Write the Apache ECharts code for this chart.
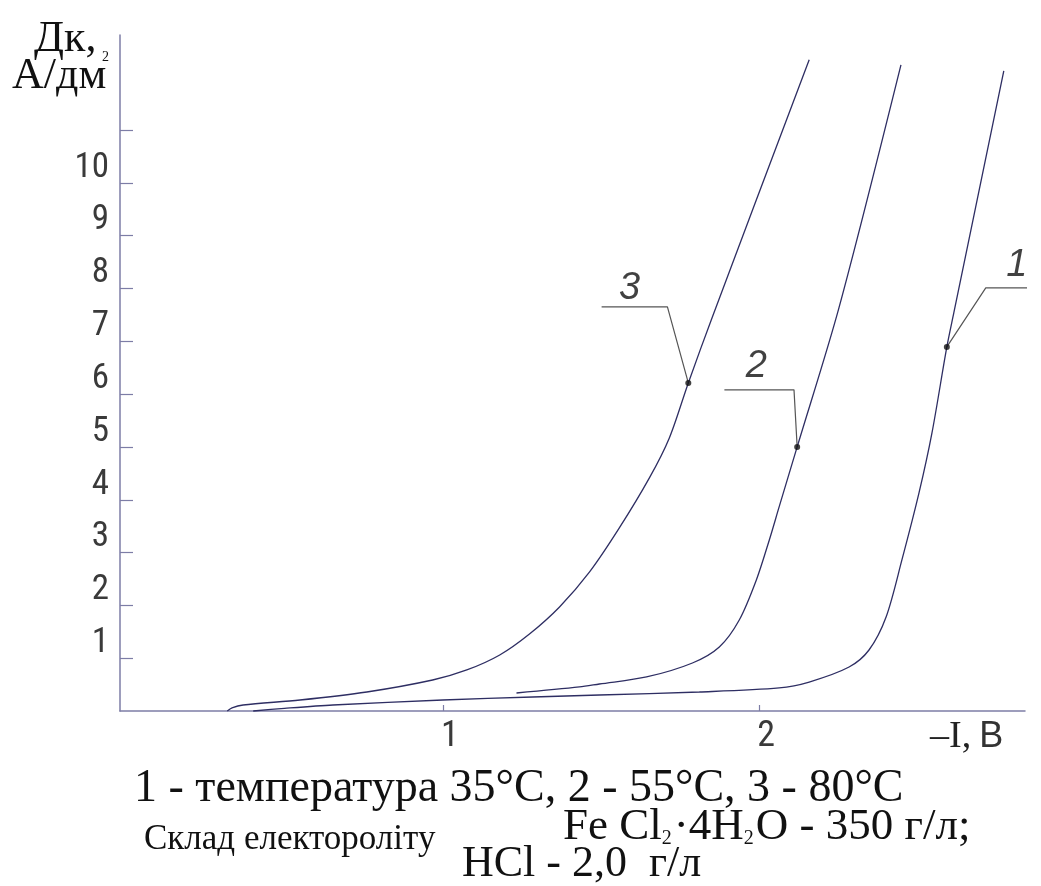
<!DOCTYPE html>
<html><head><meta charset="utf-8">
<script src="https://cdn.jsdelivr.net/npm/echarts@6/dist/echarts.min.js"></script>
<style>html,body{margin:0;padding:0;background:#fff}#c{width:1041px;height:886px}</style>
</head><body><div id="c"></div>
<script>
// ---- data ----
const xTickValues = [1, 2];
const yTickValues = [1, 2, 3, 4, 5, 6, 7, 8, 9, 10, 11];
const yLabelValues = [1, 2, 3, 4, 5, 6, 7, 8, 9, 10];

// curve 1 : 35 °C
const curve1 = [[0.401,0],[0.50,0.05],[0.653,0.114],[1.0,0.208],[1.284,0.265],[1.495,0.303],[1.811,0.36],[2.063,0.436],[2.158,0.549],[2.284,0.833],[2.347,1.155],[2.401,1.78],[2.451,2.86],[2.505,4.129],[2.546,5.265],[2.593,6.894],[2.615,7.538],[2.773,12.121]];
// curve 2 : 55 °C
const curve2 = [[1.233,0.341],[1.432,0.455],[1.495,0.511],[1.644,0.644],[1.789,0.909],[1.874,1.212],[1.937,1.723],[1.991,2.481],[2.032,3.239],[2.063,3.864],[2.12,5.0],[2.252,7.633],[2.448,12.235]];
// curve 3 : 80 °C
const curve3 = [[0.319,0],[0.334,0.06],[0.369,0.114],[0.549,0.208],[0.76,0.36],[0.968,0.587],[1.076,0.777],[1.18,1.061],[1.274,1.458],[1.369,1.97],[1.464,2.633],[1.558,3.466],[1.653,4.413],[1.716,5.17],[1.776,6.212],[1.852,7.462],[2.158,12.33]];

const markerPoints = [[2.593,6.894],[2.12,5.0],[1.776,6.212]];
const leader1 = [[2.883,8.011],[2.716,8.011],[2.593,6.894]];
const leader2 = [[1.89,6.08],[2.11,6.08],[2.12,5.0]];
const leader3 = [[1.502,7.652],[1.71,7.652],[1.776,6.212]];
const curveNames = ['1','2','3'];
const curveLabelPos = [[2.814,8.43],[1.991,6.53],[1.59,8.01]];

// ---- chart ----
const chart = echarts.init(document.getElementById('c'), null, {renderer:'canvas'});
const axisColor = '#7d7da6';
const curveColor = '#2e2e63';
const tickFont = '"Liberation Sans Narrow","Roboto Condensed","Liberation Sans",sans-serif';

const curveSeries = [curve1, curve2, curve3].map((d, i) => ({
  type:'line', name:curveNames[i], data:d, showSymbol:false, smooth:0.3,
  lineStyle:{color:curveColor, width:1.3}, clip:false, silent:true, z:3
}));
const leaderSeries = [leader1, leader2, leader3].map(d => ({
  type:'line', data:d, showSymbol:false, smooth:false,
  lineStyle:{color:'#555', width:1.2}, clip:false, silent:true, z:2
}));

chart.setOption({
  animation:false,
  backgroundColor:'#fff',
  grid:{left:120, right:16, top:35, bottom:175},
  xAxis:{
    type:'value', min:-0.02, max:2.84,
    axisLine:{onZero:false, lineStyle:{color:axisColor, width:1.5}},
    axisTick:{show:true, customValues:xTickValues, inside:true, length:6, lineStyle:{color:axisColor, width:1.2}},
    axisLabel:{customValues:xTickValues, fontSize:36, color:'#3a3a3a', fontFamily:tickFont, margin:8, padding:[0,0,0,14]},
    splitLine:{show:false}
  },
  yAxis:{
    type:'value', min:0, max:12.8,
    axisLine:{show:true, onZero:false, lineStyle:{color:axisColor, width:1.5}},
    axisTick:{show:true, customValues:yTickValues, inside:true, length:13, lineStyle:{color:axisColor, width:1.2}},
    axisLabel:{customValues:yLabelValues, fontSize:35, color:'#3a3a3a', fontFamily:tickFont, margin:11, verticalAlign:'bottom', lineHeight:30},
    splitLine:{show:false}
  },
  series:[
    ...curveSeries,
    ...leaderSeries,
    {type:'scatter', data:markerPoints, symbol:'circle', symbolSize:6, itemStyle:{color:'#111'}, z:5, silent:true},
    {type:'scatter', data:curveLabelPos.map((p,i)=>({value:p, name:curveNames[i]})), symbolSize:0, silent:true, clip:false,
     label:{show:true, position:'inside', formatter:'{b}', fontSize:38, fontStyle:'italic', color:'#111', fontFamily:'"Liberation Sans",sans-serif'}}
  ],
  graphic:[
    {type:'text', left:34, top:17, style:{text:'Дк,', font:'44px "Liberation Serif", serif', fill:'#111'}},
    {type:'text', left:102, top:50, style:{text:'2', font:'14px "Liberation Serif", serif', fill:'#111'}},
    {type:'text', left:12, top:54, style:{text:'А/дм', font:'44px "Liberation Serif", serif', fill:'#111'}},
    {type:'text', left:930, top:718, style:{rich:{a:{font:'38px "Liberation Serif", serif', fill:'#222'}, b:{font:'36px "Liberation Sans", sans-serif', fill:'#333', padding:[0,0,0,8]}}, text:'{a|–I,}{b|В}'}},
    {type:'text', left:134, top:766, style:{text:'1 - температура 35°C, 2 - 55°C, 3 - 80°C', font:'46px "Liberation Serif", serif', fill:'#111'}},
    {type:'text', left:144, top:822, style:{text:'Склад електороліту', font:'35px "Liberation Serif", serif', fill:'#111'}},
    {type:'text', left:563, top:805, style:{rich:{t:{font:'45px "Liberation Serif", serif', fill:'#111'}, s:{font:'20px "Liberation Serif", serif', fill:'#111', padding:[22,2,0,0]}}, text:'{t|Fe Cl}{s|2}{t|·4H}{s|2}{t|O - 350 г/л;}'}},
    {type:'text', left:462, top:842, style:{text:'HCl - 2,0  г/л', font:'44px "Liberation Serif", serif', fill:'#111'}}
  ]
});
</script></body></html>
